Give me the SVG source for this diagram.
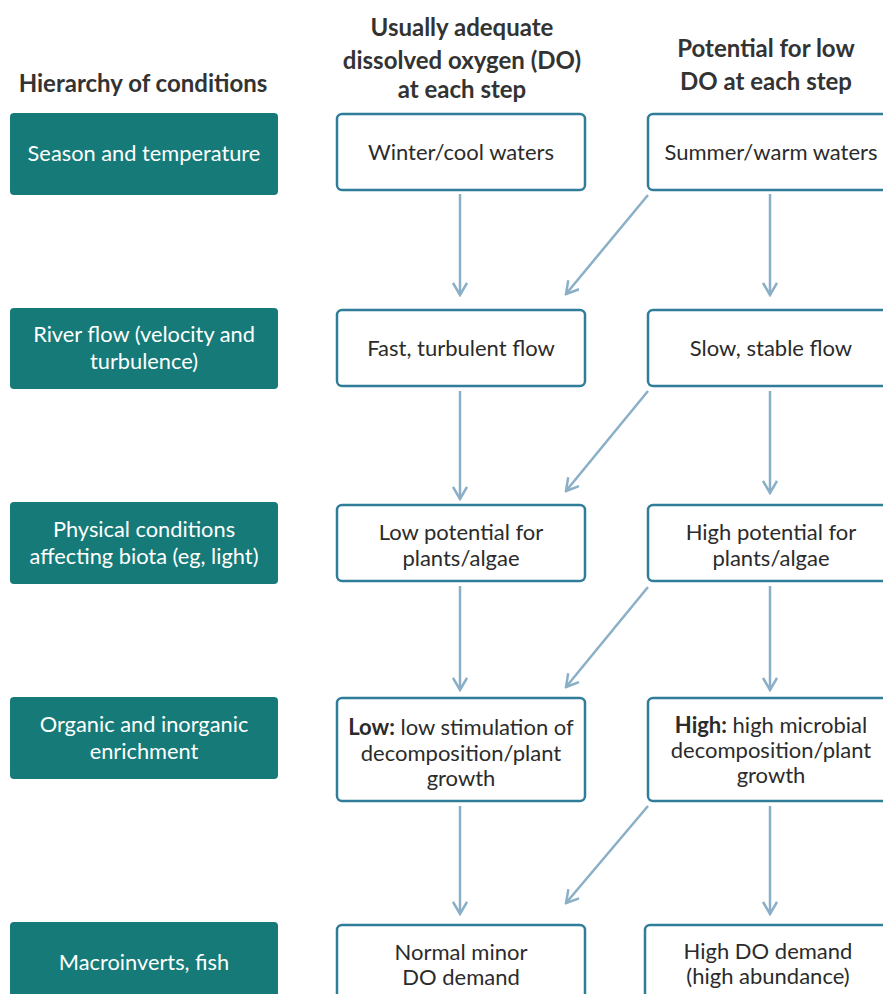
<svg xmlns="http://www.w3.org/2000/svg" width="883" height="994" viewBox="0 0 883 994">
<defs>
<style>
text{font-family:Lato,"Open Sans","Liberation Sans",sans-serif;text-anchor:middle}
.hd{font-size:24px;font-weight:bold;fill:#333}
.lt{font-size:21.8px;fill:#fff}
.nt{font-size:22px;fill:#2b2b2b}
.lbox{fill:#157a78}
.box{fill:#fff;stroke:#2f7d98;stroke-width:2.5}
.ar{stroke:#8aafc7;stroke-width:2.5;fill:none;marker-end:url(#ah)}
</style>
<marker id="ah" viewBox="0 0 16 16" refX="14" refY="8" markerWidth="16" markerHeight="16" markerUnits="userSpaceOnUse" orient="auto">
<path d="M2 1 L14 8 L2 15" fill="none" stroke="#8aafc7" stroke-width="2.5"/>
</marker>
</defs>
<rect width="883" height="994" fill="#fff"/>
<g id="headers">
<text class="hd" x="143" y="92">Hierarchy of conditions</text>
<text class="hd" x="462" y="36">Usually adequate</text>
<text class="hd" x="462" y="69">dissolved oxygen (DO)</text>
<text class="hd" x="462" y="98">at each step</text>
<text class="hd" x="766" y="57">Potential for low</text>
<text class="hd" x="766" y="90">DO at each step</text>
</g>
<g id="l1"><rect class="lbox" x="10" y="113" width="268" height="82" rx="4"/><text class="lt" x="144" y="161">Season and temperature</text></g>
<g id="l2"><rect class="lbox" x="10" y="308" width="268" height="81" rx="4"/><text class="lt" x="144" y="342">River flow (velocity and</text><text class="lt" x="144" y="369">turbulence)</text></g>
<g id="l3"><rect class="lbox" x="10" y="502" width="268" height="82" rx="4"/><text class="lt" x="144" y="537">Physical conditions</text><text class="lt" x="144" y="564">affecting biota (eg, light)</text></g>
<g id="l4"><rect class="lbox" x="10" y="697" width="268" height="82" rx="4"/><text class="lt" x="144" y="732">Organic and inorganic</text><text class="lt" x="144" y="759">enrichment</text></g>
<g id="l5"><rect class="lbox" x="10" y="922" width="268" height="90" rx="4"/><text class="lt" x="144" y="970">Macroinverts, fish</text></g>

<g id="m1"><rect class="box" x="337" y="114" width="248" height="76" rx="5"/><text class="nt" x="461" y="160">Winter/cool waters</text></g>
<g id="m2"><rect class="box" x="337" y="310" width="248" height="76" rx="5"/><text class="nt" x="461" y="356">Fast, turbulent flow</text></g>
<g id="m3"><rect class="box" x="337" y="505" width="248" height="76" rx="5"/><text class="nt" x="461" y="540">Low potential for</text><text class="nt" x="461" y="566">plants/algae</text></g>
<g id="m4"><rect class="box" x="337" y="698" width="248" height="103" rx="5"/><text class="nt" x="461" y="735"><tspan font-weight="bold">Low:</tspan> low stimulation of</text><text class="nt" x="461" y="761">decomposition/plant</text><text class="nt" x="461" y="786">growth</text></g>
<g id="m5"><rect class="box" x="337" y="925" width="248" height="90" rx="5"/><text class="nt" x="461" y="960">Normal minor</text><text class="nt" x="461" y="985">DO demand</text></g>

<g id="r1"><rect class="box" x="648" y="114" width="250" height="76" rx="5"/><text class="nt" x="771" y="160">Summer/warm waters</text></g>
<g id="r2"><rect class="box" x="648" y="310" width="250" height="76" rx="5"/><text class="nt" x="771" y="356">Slow, stable flow</text></g>
<g id="r3"><rect class="box" x="648" y="505" width="250" height="76" rx="5"/><text class="nt" x="771" y="540">High potential for</text><text class="nt" x="771" y="566">plants/algae</text></g>
<g id="r4"><rect class="box" x="648" y="698" width="250" height="103" rx="5"/><text class="nt" x="771" y="733"><tspan font-weight="bold">High:</tspan> high microbial</text><text class="nt" x="771" y="758">decomposition/plant</text><text class="nt" x="771" y="783">growth</text></g>
<g id="r5"><rect class="box" x="645" y="925" width="253" height="90" rx="5"/><text class="nt" x="768" y="959">High DO demand</text><text class="nt" x="768" y="984">(high abundance)</text></g>

<g id="connectors">
<line class="ar" x1="460" y1="194" x2="460" y2="295"/>
<line class="ar" x1="770" y1="194" x2="770" y2="295"/>
<line class="ar" x1="648" y1="195" x2="566" y2="294"/>
<line class="ar" x1="460" y1="391" x2="460" y2="499"/>
<line class="ar" x1="770" y1="391" x2="770" y2="493"/>
<line class="ar" x1="648" y1="391" x2="566" y2="491"/>
<line class="ar" x1="460" y1="586" x2="460" y2="690"/>
<line class="ar" x1="770" y1="586" x2="770" y2="690"/>
<line class="ar" x1="648" y1="587" x2="566" y2="687"/>
<line class="ar" x1="460" y1="806" x2="460" y2="914"/>
<line class="ar" x1="770" y1="806" x2="770" y2="914"/>
<line class="ar" x1="648" y1="806" x2="566" y2="903"/>
</g>
</svg>
